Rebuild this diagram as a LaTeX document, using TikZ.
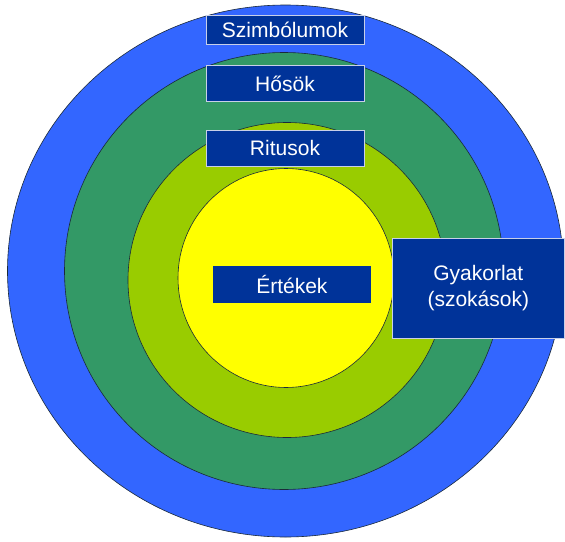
\documentclass[tikz,border=0pt]{standalone}
\usepackage{fontspec}
\setmainfont{Liberation Sans}
\definecolor{cblue}{HTML}{3366FF}
\definecolor{cgreen}{HTML}{339966}
\definecolor{clgreen}{HTML}{99CC00}
\definecolor{cyellow}{HTML}{FFFF00}
\definecolor{cnavy}{HTML}{003399}
\definecolor{cedge}{HTML}{1A2A3A}
\definecolor{cbord}{HTML}{C8D0E8}
\tikzset{
  ring/.style={draw=cedge, line width=0.6pt},
  label box/.style={fill=cnavy, draw=cbord, line width=0.9pt, text=white,
    font=\fontsize{21}{26}\selectfont, inner sep=0pt, align=center},
}
\begin{document}
\begin{tikzpicture}[x=1pt,y=-1pt]
\useasboundingbox (0,0) rectangle (565,541);
\fill[white] (0,0) rectangle (565,541);
\filldraw[ring, fill=cblue] (285.5,271) ellipse [x radius=278, y radius=266];
\filldraw[ring, fill=cgreen] (284,271) ellipse [x radius=219.5, y radius=218.5];
\filldraw[ring, fill=clgreen] (287,280) ellipse [x radius=159, y radius=157.5];
\filldraw[ring, fill=cyellow] (286,278) ellipse [x radius=108, y radius=109.5];
\node[label box, minimum width=158pt, minimum height=28.3pt] (szimb) at (285,30) {Szimbólumok};
\node[label box, minimum width=158pt, minimum height=36pt] (hosok) at (285,83.7) {Hősök};
\node[label box, minimum width=158pt, minimum height=35.3pt] (ritus) at (285,148.4) {Ritusok};
\node[label box, draw=none, minimum width=158.3pt, minimum height=37pt] (ertek) at (291.9,284.2) {Értékek};
\node[label box, minimum width=172pt, minimum height=100pt] (gyak) at (478.3,288.3) {Gyakorlat\\(szokások)};
\end{tikzpicture}
\end{document}
